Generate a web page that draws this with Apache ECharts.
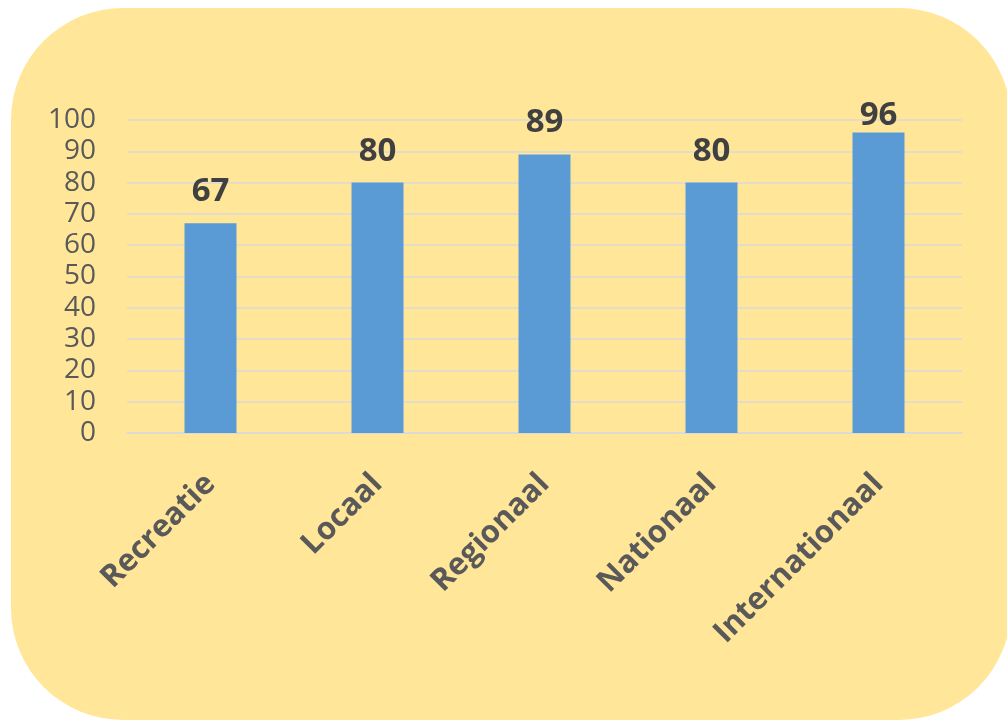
<!DOCTYPE html>
<html>
<head>
<meta charset="utf-8">
<script src="https://cdn.jsdelivr.net/npm/echarts@6/dist/echarts.min.js"></script>
<style>
html,body{margin:0;padding:0;background:#ffffff;}
#chart{width:1007px;height:720px;}
</style>
</head>
<body>
<div id="chart"></div>
<script>
const categories = ['Recreatie', 'Locaal', 'Regionaal', 'Nationaal', 'Internationaal'];
const values = [67, 80, 89, 80, 96];
const yTicks = [0, 10, 20, 30, 40, 50, 60, 70, 80, 90, 100];

const chart = echarts.init(document.getElementById('chart'));
const fontFam = '"Open Sans", "Noto Sans", sans-serif';
// labels near the top of the plot are pushed down toward the bar (as in the original)
const seriesData = values.map(function (v) {
  return v > 92 ? { value: v, label: { distance: 0 } } : v;
});
chart.setOption({
  animation: false,
  backgroundColor: '#ffffff',
  graphic: [{
    type: 'rect',
    z: -100,
    left: 11, top: 8,
    shape: { width: 1000, height: 712, r: 112 },
    style: { fill: '#FFE699' },
    silent: true
  }],
  grid: { left: 127, right: 45, top: 120, bottom: 287, containLabel: false },
  xAxis: {
    type: 'category',
    data: categories,
    axisLine: { show: true, lineStyle: { color: '#D9D9D9', width: 1.5 } },
    axisTick: { show: false },
    axisLabel: {
      rotate: 45,
      margin: 46,
      interval: 0,
      color: '#595959',
      fontFamily: fontFam,
      fontWeight: 'bold',
      fontSize: 31
    }
  },
  yAxis: {
    type: 'value',
    min: yTicks[0],
    max: yTicks[yTicks.length - 1],
    interval: 10,
    axisLine: { show: false },
    axisTick: { show: false },
    splitLine: { show: true, lineStyle: { color: '#D9D9D9', width: 1.5 } },
    axisLabel: {
      margin: 31,
      color: '#595959',
      fontFamily: fontFam,
      fontSize: 28
    }
  },
  series: [{
    type: 'bar',
    data: seriesData,
    barWidth: 52,
    itemStyle: { color: '#5B9BD5' },
    label: {
      show: true,
      position: 'top',
      distance: 15,
      color: '#404040',
      fontFamily: fontFam,
      fontWeight: 'bold',
      fontSize: 33
    }
  }]
});
</script>
</body>
</html>
